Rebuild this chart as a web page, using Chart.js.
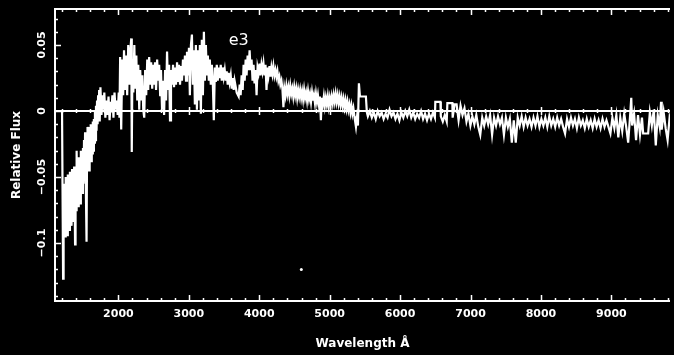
<!DOCTYPE html>
<html>
<head>
<meta charset="utf-8">
<script src="https://cdn.jsdelivr.net/npm/chart.js@4.4.1/dist/chart.umd.min.js"></script>
<style>
  html, body { margin: 0; padding: 0; background: #000; overflow: hidden; }
  canvas { display: block; }
</style>
</head>
<body>
<canvas id="spectrum" width="674" height="355"></canvas>
<script>
// Spectrum, in pieces (wavelength in Å, relative flux).

// far UV rise
const uvWavelength = [
  1200, 1215, 1222, 1230, 1237, 1245, 1252, 1260, 1267, 1275,
  1282, 1290, 1297, 1305, 1312, 1320, 1327, 1335, 1342, 1350,
  1357, 1365, 1372, 1380, 1385, 1392, 1400, 1407, 1415, 1422,
  1430, 1437, 1445, 1452, 1460, 1467, 1475, 1482, 1490, 1497,
  1505, 1512, 1520, 1527, 1535, 1548, 1555, 1562, 1570, 1577,
  1585, 1592, 1600, 1607, 1615, 1622, 1630, 1637, 1645, 1652,
  1660, 1667, 1675, 1682, 1690, 1697, 1705, 1712, 1720, 1727,
  1735, 1745, 1760, 1775, 1790, 1800, 1815, 1830, 1845, 1860,
  1875, 1890, 1900, 1915, 1930, 1945, 1960, 1975, 1990
];
const uvFlux = [
  0, -0.127, -0.060, -0.092, -0.055, -0.095, -0.050, -0.088, -0.062, -0.094,
  -0.048, -0.085, -0.058, -0.090, -0.046, -0.082, -0.055, -0.087, -0.044, -0.078,
  -0.052, -0.084, -0.042, -0.072, -0.101, -0.050, -0.075, -0.030, -0.068, -0.040,
  -0.072, -0.035, -0.065, -0.038, -0.070, -0.030, -0.060, -0.034, -0.062, -0.028,
  -0.055, -0.022, -0.050, -0.016, -0.045, -0.099, -0.030, -0.012, -0.042, -0.018,
  -0.045, -0.012, -0.035, -0.010, -0.038, -0.014, -0.032, -0.008, -0.030, -0.006,
  -0.024, 0.000, -0.022, 0.004, -0.015, 0.008, -0.010, 0.012, -0.005, 0.016,
  -0.008, 0.018, -0.003, 0.012, 0.001, 0.014, -0.005, 0.008, -0.003, 0.011,
  -0.007, 0.007, -0.001, 0.012, -0.005, 0.014, 0.001, 0.008, -0.003
];

// 2000-4400 bump
const bumpWavelength = [
  2005, 2015, 2025, 2040, 2055, 2068, 2080, 2095, 2110, 2125, 2140, 2155, 2170, 2183,
  2190, 2200, 2212, 2226, 2240, 2255, 2268, 2282, 2296, 2310, 2325, 2340, 2353, 2367,
  2380, 2395, 2410, 2423, 2437, 2450, 2465, 2480, 2494, 2508, 2520, 2535, 2550, 2565,
  2579, 2593, 2605, 2620, 2635, 2649, 2663, 2677, 2691, 2705, 2720, 2733, 2747, 2762,
  2776, 2790, 2805, 2818, 2833, 2847, 2861, 2875, 2890, 2903, 2917, 2931, 2945, 2960,
  2974, 2988, 3002, 3015, 3030, 3044, 3058, 3072, 3086, 3100, 3115, 3129, 3143, 3157,
  3171, 3185, 3200, 3214, 3228, 3242, 3256, 3270, 3284, 3298, 3312, 3327, 3340, 3355,
  3370, 3383, 3397, 3411, 3425, 3440, 3453, 3468, 3482, 3496, 3510, 3524, 3538, 3552,
  3566, 3580, 3595, 3609, 3623, 3637, 3650, 3680, 3708, 3722, 3736, 3750, 3765, 3778,
  3793, 3807, 3820, 3835, 3849, 3863, 3877, 3891, 3905, 3919, 3933, 3948, 3962, 3976,
  3990, 4004, 4018, 4032, 4046, 4060, 4075, 4089, 4103, 4117, 4131, 4145, 4159, 4173,
  4187, 4201, 4216, 4230, 4244, 4258, 4272, 4286, 4300, 4315, 4329, 4343, 4357, 4371
];
const bumpFlux = [
  0.014, -0.005, 0.041, -0.014, 0.039, 0.012, 0.046, 0.016, 0.042, 0.012, 0.050, 0.020, 0.046, 0.055,
  -0.031, 0.039, 0.014, 0.050, 0.017, 0.042, 0.008, 0.035, 0.001, 0.031, 0.008, 0.027, 0.001, -0.005,
  0.031, 0.012, 0.039, 0.016, 0.041, 0.020, 0.037, 0.017, 0.035, 0.020, 0.037, 0.016, 0.039, 0.023,
  0.035, 0.012, 0.031, 0.001, 0.023, -0.003, 0.031, 0.008, 0.045, 0.016, 0.035, -0.007, 0.031, 0.020,
  0.035, 0.018, 0.033, 0.020, 0.037, 0.022, 0.035, 0.020, 0.034, 0.023, 0.039, 0.027, 0.042, 0.023,
  0.045, 0.027, 0.048, 0.012, 0.050, 0.058, 0.020, 0.046, 0.005, 0.050, 0.001, 0.046, 0.008, 0.050,
  -0.002, 0.054, 0.012, 0.060, 0.023, 0.050, 0.027, 0.042, 0.023, 0.039, 0.020, 0.035, 0.023, -0.007,
  0.033, 0.022, 0.035, 0.023, 0.033, 0.025, 0.035, 0.023, 0.033, 0.026, 0.031, 0.023, 0.030, 0.020,
  0.029, 0.022, 0.027, 0.017, 0.025, 0.016, 0.023, 0.014, 0.011, 0.020, 0.012, 0.027, 0.016, 0.035,
  0.023, 0.039, 0.027, 0.042, 0.031, 0.046, 0.031, 0.039, 0.023, 0.035, 0.021, 0.031, 0.012, 0.033,
  0.029, 0.036, 0.027, 0.035, 0.030, 0.036, 0.027, 0.035, 0.016, 0.033, 0.027, 0.034, 0.026, 0.033,
  0.028, 0.034, 0.027, 0.031, 0.026, 0.030, 0.023, 0.026, 0.020, 0.023, 0.017, 0.003, 0.017, 0.012
];

// slow decline to the 5400 Å jump
const slopeWavelength = [
  4385, 4399, 4413, 4427, 4441, 4455, 4469, 4483, 4497, 4511, 4525, 4539, 4553, 4567,
  4581, 4595, 4609, 4623, 4637, 4651, 4665, 4679, 4693, 4707, 4721, 4735, 4749, 4763,
  4777, 4791, 4805, 4819, 4833, 4847, 4861, 4875, 4889, 4903, 4917, 4931, 4945, 4959,
  4973, 4987, 5001, 5015, 5029, 5043, 5057, 5071, 5085, 5099, 5113, 5127, 5141, 5155,
  5169, 5183, 5197, 5211, 5225, 5239, 5253, 5267, 5281, 5295, 5309, 5323, 5337, 5351,
  5359, 5373, 5387, 5401, 5415, 5430, 5514, 5528
];
const slopeFlux = [
  0.019, 0.013, 0.018, 0.012, 0.019, 0.013, 0.017, 0.011, 0.018, 0.012, 0.017, 0.010, 0.016, 0.011,
  0.016, 0.010, 0.015, 0.009, 0.016, 0.010, 0.014, 0.008, 0.015, 0.009, 0.013, 0.007, 0.014, 0.008,
  0.012, 0.006, 0.013, 0.007, 0.012, 0.005, 0.011, -0.007, 0.010, 0.005, 0.011, 0.004, 0.010, 0.005,
  0.011, 0.004, 0.010, 0.005, 0.011, 0.006, 0.012, 0.007, 0.013, 0.007, 0.012, 0.006, 0.011, 0.005,
  0.010, 0.004, 0.009, 0.003, 0.008, 0.002, 0.007, 0.001, 0.005, -0.001, 0.004, -0.002, 0.002, -0.004,
  -0.007, -0.012, -0.005, -0.011, 0.021, 0.011, 0.011, -0.001
];

// red side, just below zero
const redWavelength = [
  5542, 5570, 5598, 5626, 5654, 5682, 5710, 5738, 5766, 5794,
  5822, 5850, 5878, 5906, 5934, 5962, 5990, 6018, 6046, 6074,
  6102, 6130, 6158, 6186, 6214, 6242, 6270, 6298, 6326, 6354,
  6382, 6410, 6438, 6466, 6494, 6500, 6572, 6578, 6606, 6634,
  6662, 6671, 6742, 6746, 6774, 6802, 6830, 6858, 6886, 6914,
  6942, 6970, 6998, 7026, 7054, 7082, 7110, 7138, 7166, 7194,
  7222, 7250, 7278, 7306, 7334, 7362, 7390, 7418, 7446, 7474,
  7502, 7530, 7558, 7586, 7614, 7642, 7670, 7698, 7726, 7754,
  7782, 7810, 7838, 7866, 7894, 7922, 7950, 7978, 8006, 8034,
  8062, 8090, 8118, 8146, 8174, 8202, 8230, 8258, 8286, 8314,
  8342, 8370, 8398, 8426, 8454, 8482, 8510, 8538, 8566, 8594,
  8622, 8650, 8678, 8706, 8734, 8762, 8790, 8818, 8846, 8874,
  8902, 8930, 8958, 8986, 9014, 9042, 9070, 9098, 9126, 9154,
  9182, 9210, 9238, 9266, 9282, 9294, 9322, 9350, 9378, 9406,
  9434, 9451, 9522, 9546, 9574, 9602, 9630, 9658, 9686, 9705,
  9714, 9742, 9770, 9798, 9826, 9854
];
const redFlux = [
  -0.004, 0.000, -0.005, -0.001, -0.006, 0.000, -0.004, -0.001, -0.006, -0.002,
  -0.005, 0.001, -0.004, -0.001, -0.006, -0.002, -0.007, -0.001, -0.005, 0.000,
  -0.004, 0.001, -0.005, -0.001, -0.006, -0.002, -0.005, 0.000, -0.006, -0.002,
  -0.007, -0.002, -0.006, -0.001, -0.005, 0.007, 0.007, -0.004, -0.008, -0.003,
  -0.008, 0.006, 0.006, -0.005, 0.005, 0.005, -0.007, 0.004, -0.003, 0.002,
  -0.008, -0.002, -0.011, -0.004, -0.010, -0.003, -0.012, -0.018, -0.005, -0.011,
  -0.004, -0.010, -0.003, -0.018, -0.005, -0.011, -0.004, -0.010, -0.005, -0.018,
  -0.005, -0.012, -0.006, -0.024, -0.007, -0.024, -0.005, -0.011, -0.004, -0.012,
  -0.005, -0.011, -0.006, -0.012, -0.005, -0.011, -0.004, -0.012, -0.006, -0.011,
  -0.005, -0.012, -0.004, -0.011, -0.006, -0.012, -0.005, -0.011, -0.006, -0.012,
  -0.017, -0.006, -0.012, -0.005, -0.011, -0.006, -0.013, -0.005, -0.011, -0.007,
  -0.013, -0.006, -0.012, -0.007, -0.013, -0.006, -0.012, -0.007, -0.013, -0.006,
  -0.012, -0.007, -0.012, -0.017, -0.005, -0.013, -0.003, -0.020, -0.005, -0.015,
  -0.002, -0.012, -0.024, -0.003, 0.010, -0.011, -0.002, -0.022, -0.003, -0.018,
  -0.005, -0.017, -0.017, -0.001, -0.011, 0.001, -0.026, -0.003, -0.012, 0.007,
  -0.014, -0.001, -0.013, -0.022, -0.005, -0.011
];

// stray speck on the plate
const speckWavelength = [4597];
const speckFlux = [-0.120];

const xTickValues = [2000, 3000, 4000, 5000, 6000, 7000, 8000, 9000];
const yTickValues = [-0.1, -0.05, 0, 0.05];
const yTickLabels = ['\u22120.1', '\u22120.05', '0', '0.05'];

const X_MIN = 1100, X_MAX = 9832;
const Y_MIN = -0.1439, Y_MAX = 0.0773;

const objectLabel = 'e3';
const objectLabelAt = [3566, 0.050];

const FONT = "'DejaVu Sans', 'Liberation Sans', sans-serif";
const WHITE = '#ffffff';

const wavelength = [...uvWavelength, ...bumpWavelength, ...slopeWavelength, ...redWavelength];
const flux = [...uvFlux, ...bumpFlux, ...slopeFlux, ...redFlux];

// Frame with inward ticks, tick-marked zero line, rotated y labels and the object tag.
const framePlugin = {
  id: 'frame',
  afterDraw(chart) {
    const ctx = chart.ctx;
    const { left, right, top, bottom } = chart.chartArea;
    const xs = chart.scales.x, ys = chart.scales.y;
    const y0 = ys.getPixelForValue(0);

    ctx.save();
    ctx.strokeStyle = WHITE;
    ctx.lineWidth = 2;
    ctx.beginPath();
    ctx.moveTo(right, top); ctx.lineTo(left, top);
    ctx.lineTo(left, bottom); ctx.lineTo(right, bottom);
    ctx.moveTo(left, y0); ctx.lineTo(right, y0);
    ctx.stroke();

    ctx.lineWidth = 1.5;
    ctx.beginPath();
    for (let v = 1200; v <= X_MAX; v += 200) {
      const major = v % 1000 === 0;
      const len = major ? 6 : 3;
      const px = Math.round(xs.getPixelForValue(v)) + 0.5;
      ctx.moveTo(px, bottom); ctx.lineTo(px, bottom - len);
      ctx.moveTo(px, top); ctx.lineTo(px, top + len);
      const zl = major ? 4 : 2;
      ctx.moveTo(px, y0 - zl); ctx.lineTo(px, y0 + zl);
    }
    for (let k = -14; k <= 7; k++) {
      const len = k % 5 === 0 ? 6 : 3;
      const py = Math.round(ys.getPixelForValue(k / 100)) + 0.5;
      ctx.moveTo(left, py); ctx.lineTo(left + len, py);
    }
    ctx.stroke();

    ctx.fillStyle = WHITE;
    ctx.font = 'bold 11px ' + FONT;
    ctx.textAlign = 'center';
    ctx.textBaseline = 'middle';
    yTickValues.forEach((v, i) => {
      ctx.save();
      ctx.translate(42, ys.getPixelForValue(v));
      ctx.rotate(-Math.PI / 2);
      ctx.fillText(yTickLabels[i], 0, 0);
      ctx.restore();
    });

    ctx.font = '16px ' + FONT;
    ctx.textAlign = 'left';
    ctx.textBaseline = 'alphabetic';
    ctx.fillText(objectLabel, xs.getPixelForValue(objectLabelAt[0]), ys.getPixelForValue(objectLabelAt[1]));
    ctx.restore();
  }
};

new Chart(document.getElementById('spectrum'), {
  type: 'line',
  data: {
    datasets: [
      {
        data: wavelength.map((w, i) => ({ x: w, y: flux[i] })),
        borderColor: WHITE,
        borderWidth: 2.2,
        pointRadius: 0,
        tension: 0,
        fill: false
      },
      {
        type: 'scatter',
        data: speckWavelength.map((w, i) => ({ x: w, y: speckFlux[i] })),
        backgroundColor: WHITE,
        borderWidth: 0,
        pointRadius: 1.5
      }
    ]
  },
  options: {
    responsive: false,
    animation: false,
    layout: { padding: { top: 9, right: 0, bottom: 0, left: 0 } },
    plugins: { legend: { display: false }, tooltip: { enabled: false } },
    scales: {
      x: {
        type: 'linear',
        min: X_MIN,
        max: X_MAX,
        afterBuildTicks: (s) => { s.ticks = xTickValues.map((v) => ({ value: v })); },
        afterFit: (s) => { s.height = 54; },
        grid: { display: false, drawTicks: false },
        border: { display: false },
        ticks: {
          color: WHITE,
          autoSkip: false,
          maxRotation: 0,
          padding: 7,
          font: { family: FONT, size: 11, weight: 'bold' },
          callback: (v) => String(v)
        },
        title: {
          display: true,
          text: 'Wavelength Å',
          color: WHITE,
          font: { family: FONT, size: 12, weight: 'bold' },
          padding: { top: 0, bottom: 4 }
        }
      },
      y: {
        type: 'linear',
        min: Y_MIN,
        max: Y_MAX,
        afterFit: (s) => { s.width = 55; },
        grid: { display: false, drawTicks: false },
        border: { display: false },
        ticks: { display: false },
        title: {
          display: true,
          text: 'Relative Flux',
          color: WHITE,
          font: { family: FONT, size: 12, weight: 'bold' },
          padding: { top: 10, bottom: 0 }
        }
      }
    }
  },
  plugins: [framePlugin]
});
</script>
</body>
</html>
